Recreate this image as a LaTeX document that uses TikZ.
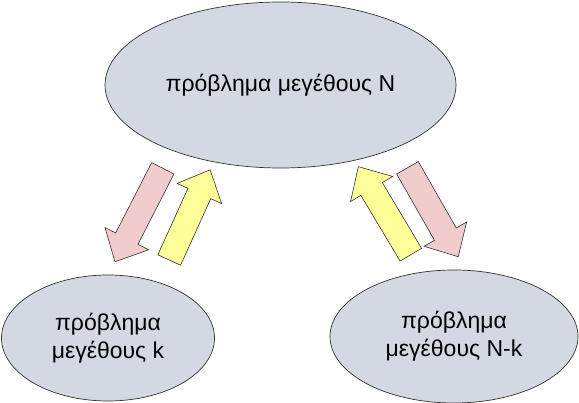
\documentclass[tikz,border=0pt]{standalone}
\usepackage{fontspec}
\setmainfont{Liberation Sans}
\usepackage{tikz}
\usetikzlibrary{shapes.geometric}

\definecolor{probfill}{RGB}{212,216,226}
\definecolor{splitfill}{RGB}{242,204,204}
\definecolor{joinfill}{RGB}{255,255,153}

\begin{document}
\begin{tikzpicture}[x=1pt, y=-1pt,
        prob/.style = {ellipse, draw=black!80, line width=0.7pt, fill=probfill, inner sep=0pt, align=center, font=\fontsize{23}{28}\selectfont},
        pics/blockarr/.style = {code = {
            \draw [pic actions] (0,-12.5) -- (#1-26,-12.5) -- (#1-26,-24.5) -- (#1,0)
                -- (#1-26,24.5) -- (#1-26,12.5) -- (0,12.5) -- cycle;
        }},
        splitarr/.style = {draw=black!80, line width=0.6pt, fill=splitfill},
        joinarr/.style = {draw=black!80, line width=0.6pt, fill=joinfill}
    ]
    \useasboundingbox (0,0) rectangle (579,403);

    \node [prob, minimum width=351pt, minimum height=166pt] (whole) at (280.5,85) {πρόβλημα μεγέθους N};
    \node [prob, minimum width=213pt, minimum height=126pt] (left) at (108,338) {πρόβλημα\\μεγέθους k};
    \node [prob, minimum width=248pt, minimum height=133pt] (right) at (454,336.5) {πρόβλημα\\μεγέθους N-k};

    % left pair
    \pic (splitleft) [splitarr, rotate=-117.1] at (162.8,168.3) {blockarr=105};
    \pic (joinleft) [joinarr, rotate=65.6] at (169.2,260) {blockarr=99};

    % right pair
    \pic (joinright) [joinarr, rotate=120.8] at (410.8,254.7) {blockarr=102.5};
    \pic (splitright) [splitarr, rotate=-60.3] at (407.5,167.8) {blockarr=102.4};
\end{tikzpicture}
\end{document}
